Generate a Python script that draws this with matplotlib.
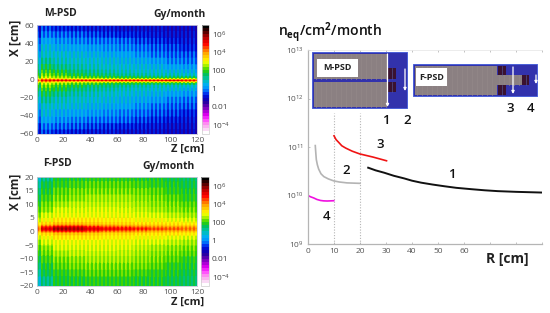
import numpy as np
import matplotlib
matplotlib.use("Agg")
import matplotlib.pyplot as plt
from matplotlib.colors import LinearSegmentedColormap, Normalize
from matplotlib.patches import Rectangle

plt.rcParams['font.family'] = ['Open Sans', 'DejaVu Sans']
plt.rcParams['mathtext.fontset'] = 'custom'
plt.rcParams['mathtext.rm'] = 'Open Sans'
plt.rcParams['mathtext.bf'] = 'Open Sans:bold'
plt.rcParams['mathtext.it'] = 'Open Sans:italic'

W, H = 550, 313

# ---------- data: log10(dose) ----------
stripes_per_z_bin = [1, 3, 4, 4, 4, 4, 4, 4, 4, 4, 4]

m_row_cm = [1, 1, 1, 2, 3, 4, 6, 7, 7, 8, 7, 7, 6]      # heights of |X| bands
m_log_dose = [
    [4.3, 4.9, 5.0, 4.9, 4.9, 4.9, 4.9, 4.9, 5.0, 5.1, 4.8],
    [3.2, 3.7, 3.4, 3.2, 3.1, 3.1, 3.0, 3.0, 3.0, 3.0, 3.3],
    [2.5, 3.0, 2.7, 2.5, 2.4, 2.3, 2.2, 2.1, 2.1, 2.1, 2.2],
    [2.0, 2.5, 2.3, 2.0, 1.9, 1.7, 1.6, 1.5, 1.4, 1.4, 1.4],
    [1.7, 2.2, 1.9, 1.6, 1.4, 1.3, 1.1, 1.0, 0.9, 0.9, 0.8],
    [1.4, 1.9, 1.6, 1.3, 1.1, 1.0, 0.9, 0.8, 0.7, 0.6, 0.5],
    [1.0, 1.5, 1.2, 1.0, 0.9, 0.8, 0.7, 0.6, 0.5, 0.3, 0.2],
    [0.7, 1.1, 0.9, 0.8, 0.7, 0.6, 0.5, 0.4, 0.2, 0.0, -0.1],
    [0.4, 0.8, 0.7, 0.6, 0.5, 0.4, 0.3, 0.1, -0.1, -0.3, -0.4],
    [0.1, 0.6, 0.4, 0.3, 0.2, 0.1, 0.0, -0.2, -0.4, -0.5, -0.7],
    [-0.2, 0.3, 0.1, 0.0, -0.1, -0.2, -0.3, -0.5, -0.6, -0.8, -0.9],
    [-0.6, -0.1, -0.3, -0.4, -0.5, -0.6, -0.7, -0.8, -0.9, -1.0, -1.0],
    [-0.9, -0.5, -0.7, -0.8, -0.9, -0.9, -1.0, -1.0, -1.0, -1.1, -1.1],
]
m_stripe = [0.3, 0.3, -0.3, -0.3]

f_row_halfcm = [1, 1, 1, 2, 3, 4, 4, 4, 5, 5, 5, 5]     # heights of |X| bands, 0.5 cm units
f_log_dose = [
    [4.3, 5.3, 5.7, 5.6, 5.2, 5.0, 4.9, 4.7, 4.5, 4.4, 4.2],
    [4.0, 4.7, 5.2, 5.2, 4.8, 4.5, 4.4, 4.2, 4.0, 3.9, 3.9],
    [3.5, 4.0, 4.3, 4.3, 4.1, 3.9, 3.8, 3.7, 3.6, 3.5, 3.4],
    [3.1, 3.4, 3.6, 3.6, 3.5, 3.4, 3.4, 3.3, 3.2, 3.2, 3.1],
    [2.7, 3.0, 3.2, 3.2, 3.2, 3.1, 3.1, 3.0, 3.0, 2.9, 2.8],
    [2.4, 2.7, 2.9, 2.9, 2.9, 2.9, 2.9, 2.8, 2.7, 2.6, 2.5],
    [2.1, 2.4, 2.7, 2.7, 2.8, 2.8, 2.7, 2.6, 2.5, 2.4, 2.3],
    [1.9, 2.2, 2.5, 2.6, 2.6, 2.6, 2.6, 2.5, 2.4, 2.3, 2.1],
    [1.6, 2.0, 2.3, 2.4, 2.5, 2.5, 2.5, 2.4, 2.3, 2.1, 1.9],
    [1.4, 1.8, 2.1, 2.2, 2.3, 2.3, 2.3, 2.2, 2.1, 1.9, 1.8],
    [1.1, 1.6, 1.9, 2.0, 2.1, 2.1, 2.1, 2.0, 1.9, 1.8, 1.6],
    [0.8, 1.3, 1.7, 1.8, 1.9, 1.9, 1.9, 1.8, 1.8, 1.6, 1.5],
]
f_stripe = [0.2, 0.2, -0.2, -0.2]

colorbar_ticks = [6, 4, 2, 0, -2, -4]
colorbar_labels = ['10$^{6}$', '10$^{4}$', '100', '1', '0.01', '10$^{-4}$']

curve1_r = [22.8, 26, 29.3, 33, 37, 40, 43.5, 48, 52.5, 57, 62.8, 68, 73, 80, 90]
curve1_flux = [3.8e10, 3.3e10, 2.95e10, 2.55e10, 2.25e10, 2.02e10, 1.84e10, 1.68e10, 1.55e10,
               1.44e10, 1.35e10, 1.28e10, 1.23e10, 1.19e10, 1.15e10]
curve2_r = [2.8, 3.0, 3.2, 3.6, 4.1, 5.0, 6.1, 7.8, 9.9, 12, 15, 20]
curve2_flux = [1.07e11, 7.5e10, 5.5e10, 4.3e10, 3.5e10, 2.8e10, 2.45e10, 2.2e10, 2.0e10, 1.9e10, 1.82e10, 1.78e10]
curve3_r = [10, 10.8, 11.9, 13, 14.5, 17, 19.9, 25, 30.2]
curve3_flux = [1.7e11, 1.42e11, 1.23e11, 1.06e11, 9.5e10, 8.2e10, 7.2e10, 6.2e10, 5.2e10]
curve4_r = [0, 1, 2.2, 3.4, 4.8, 6, 7.4, 9.9]
curve4_flux = [1.0e10, 9.4e9, 8.9e9, 8.3e9, 7.9e9, 7.75e9, 7.7e9, 7.8e9]
r_ticks = [0, 10, 20, 30, 40, 50, 60]

# ---------- colour scale ----------
anchors = [(-5, '#ffffff'), (-4.5, '#f8c8f0'), (-4, '#ff90f0'), (-3.5, '#ff40ff'), (-3, '#e000f0'),
           (-2.5, '#a000d0'), (-2, '#6000b0'), (-1.5, '#2000a0'), (-1, '#0000c8'), (-0.5, '#0038f0'),
           (0, '#0090ff'), (0.5, '#00b0f0'), (1, '#00c0b0'), (1.5, '#00c060'), (2, '#30d000'),
           (2.5, '#a0f000'), (3, '#ffff00'), (3.5, '#ffd000'), (4, '#ffa000'), (4.5, '#ff5000'),
           (5, '#ff0000'), (5.5, '#d00000'), (6, '#900000'), (6.5, '#3a0000'), (7, '#000000')]
cmap_image = LinearSegmentedColormap.from_list('dose', [((v + 5) / 12, c) for v, c in anchors], N=96)
cmap_bar = LinearSegmentedColormap.from_list('dosebar', [((v + 5) / 12, c) for v, c in anchors], N=36)
norm = Normalize(-5, 7)

fig = plt.figure(figsize=(W / 100, H / 100), dpi=100, facecolor='white')


def box(x0, y0, x1, y1, **kw):
    return fig.add_axes([x0 / W, 1 - y1 / H, (x1 - x0) / W, (y1 - y0) / H], **kw)


def dose_grid(table, rows, stripe, shift):
    half = np.repeat(np.repeat(np.array(table, float), rows, axis=0), stripes_per_z_bin, axis=1)
    half = np.repeat(half, len(stripe), axis=1)
    half = half + np.tile(stripe, half.shape[1] // len(stripe))
    grid = np.vstack([half[::-1], half])
    return np.roll(grid, shift, axis=0)


def heat(rect, cb_rect, table, rows, stripe, shift, ylim, yticks):
    ax = box(*rect)
    ax.imshow(dose_grid(table, rows, stripe, shift), extent=[0, 120, ylim[0], ylim[1]], aspect='auto',
              origin='upper', cmap=cmap_image, norm=norm, interpolation='bilinear', interpolation_stage='data')
    ax.set_xticks(range(0, 121, 20))
    ax.set_yticks(yticks)
    ax.tick_params(length=0, labelsize=6, labelcolor='#555555', pad=2)
    for s in ax.spines.values():
        s.set_color('#c8c8d8')
        s.set_linewidth(0.6)
    cax = box(*cb_rect)
    cb = fig.colorbar(plt.cm.ScalarMappable(norm=norm, cmap=cmap_bar), cax=cax)
    cb.set_ticks(colorbar_ticks)
    cb.set_ticklabels(colorbar_labels)
    cb.ax.tick_params(length=0, labelsize=6, labelcolor='#444444', pad=2)
    cb.outline.set_edgecolor('#cccccc')
    cb.outline.set_linewidth(0.5)
    return ax


heat((37, 25, 197, 134), (202, 25, 209, 134), m_log_dose, m_row_cm, m_stripe, 1, (-60, 60), range(-60, 61, 20))
heat((37, 177, 197, 286), (201, 177, 209, 286), f_log_dose, f_row_halfcm, f_stripe, -2, (-20, 20), range(-20, 21, 5))

# ---------- right-hand flux plot ----------
ax = box(308, 50, 542, 244)
ax.set_yscale('log')
ax.set_xlim(0, 90)
ax.set_ylim(1e9, 1e13)
ax.set_xticks(range(0, 91, 10))
ax.set_xticklabels([str(t) if t in r_ticks else '' for t in range(0, 91, 10)])
ax.set_yticks([1e9, 1e10, 1e11, 1e12, 1e13])
ax.minorticks_off()
ax.tick_params(axis='both', length=1.5, color='#aaaaaa', labelsize=6, labelcolor='#555555', width=0.5, pad=3, direction='in')
ax.tick_params(axis='x', top=True)
for side, s in ax.spines.items():
    s.set_color('#b5b5b5' if side in ('left', 'bottom') else '#e4e4e4')
    s.set_linewidth(0.9 if side in ('left', 'bottom') else 0.5)
ax.spines['right'].set_visible(False)
for xv in (10, 20):
    ax.plot([xv, xv], [1e9, 5e11], color='#b5b5b5', lw=0.8, ls=(0, (1, 1.5)), zorder=1)
ax.plot(curve1_r, curve1_flux, color='#111111', lw=1.4, solid_capstyle='butt')
ax.plot(curve2_r, curve2_flux, color='#b4b4b4', lw=1.2)
ax.plot(curve3_r, curve3_flux, color='#f01414', lw=1.2)
ax.plot(curve4_r, curve4_flux, color='#f010e0', lw=1.2)

# ---------- overlay: schematics and free text, in pixel coordinates ----------
ov = fig.add_axes([0, 0, 1, 1], zorder=5)
ov.set_xlim(0, W)
ov.set_ylim(H, 0)
ov.axis('off')
ov.patch.set_alpha(0)

BLUE, GRAY, DARK = '#3232ac', '#8b8082', '#3a1230'


def rect(x0, y0, x1, y1, color, z=1, ec='none', lw=0):
    ov.add_patch(Rectangle((x0, y0), x1 - x0, y1 - y0, facecolor=color, edgecolor=ec, lw=lw, zorder=z))


def gray_block(x0, y0, x1, y1):
    rect(x0, y0, x1, y1, GRAY, z=2)
    for x in np.arange(x0 + 2, x1, 5):
        ov.plot([x, x], [y0, y1], color='#938889', lw=0.5, zorder=2.1)


def dark_block(x0, y0, x1, y1):
    rect(x0, y0, x1, y1, DARK, z=3)
    ov.plot([(x0 + x1) / 2] * 2, [y0, y1], color='#5560a0', lw=0.4, zorder=3.1)


def arrow(x, y0, y1, both=False):
    ov.annotate('', xy=(x, y1), xytext=(x, y0), zorder=4,
                arrowprops=dict(arrowstyle='<|-|>' if both else '-|>', color='white', lw=0.9,
                                mutation_scale=4, shrinkA=0, shrinkB=0))


# M-PSD schematic
rect(312, 52, 407, 108, BLUE, ec='#4a60d8', lw=0.7)
gray_block(314, 54, 387, 79)
gray_block(314, 82, 387, 107)
dark_block(387, 68, 396, 79)
dark_block(387, 82, 396, 92)
rect(317, 59, 358, 77, 'white', z=3)
ov.text(337.5, 68, 'M-PSD', ha='center', va='center', fontsize=6.5, fontweight='bold', color='#222222', zorder=5)
arrow(387.5, 54, 107)
arrow(405, 69, 91)

# F-PSD schematic
rect(413, 64, 537, 96, BLUE, ec='#4a60d8', lw=0.7)
gray_block(415, 66, 497, 95)
gray_block(497, 75, 522, 85)
dark_block(498, 66, 506, 75)
dark_block(498, 85, 506, 95)
dark_block(522, 75, 529, 85)
rect(416, 68, 447, 86, 'white', z=3)
ov.text(431.5, 77, 'F-PSD', ha='center', va='center', fontsize=6.5, fontweight='bold', color='#222222', zorder=5)
arrow(513, 67, 94)
arrow(536, 75, 84)

for x, y, s in [(386, 121, '1'), (407, 121, '2'), (510, 108, '3'), (531, 108, '4'),
                (380, 144, '3'), (346, 170, '2'), (452, 174, '1'), (327, 216, '4')]:
    ov.text(x, y, s, ha='center', va='center', fontsize=9.5, color='#111111', fontweight='semibold')

ov.text(278, 33, r'n$_{\mathbf{eq}}$/cm$^{\mathbf{2}}$/month', ha='left', va='center', fontsize=10, fontweight='semibold', color='#111111')
ov.text(44, 13, 'M-PSD', ha='left', va='center', fontsize=7.5, fontweight='bold', color='#222222')
ov.text(153, 14.5, 'Gy/month', ha='left', va='center', fontsize=7.5, fontweight='bold', color='#222222')
ov.text(43, 164, 'F-PSD', ha='left', va='center', fontsize=7.5, fontweight='bold', color='#222222')
ov.text(142, 166, 'Gy/month', ha='left', va='center', fontsize=7.5, fontweight='bold', color='#222222')
for y in (149, 302):
    ov.text(188, y, 'Z [cm]', ha='center', va='center', fontsize=8, fontweight='bold', color='#222222')
ov.text(15, 38, 'X [cm]', ha='center', va='center', rotation=90, fontsize=8.5, fontweight='bold', color='#222222')
ov.text(15, 192, 'X [cm]', ha='center', va='center', rotation=90, fontsize=8.5, fontweight='bold', color='#222222')
ov.text(507, 259, 'R [cm]', ha='center', va='center', fontsize=10, fontweight='bold', color='#222222')

fig.savefig('out.png', dpi=100)
